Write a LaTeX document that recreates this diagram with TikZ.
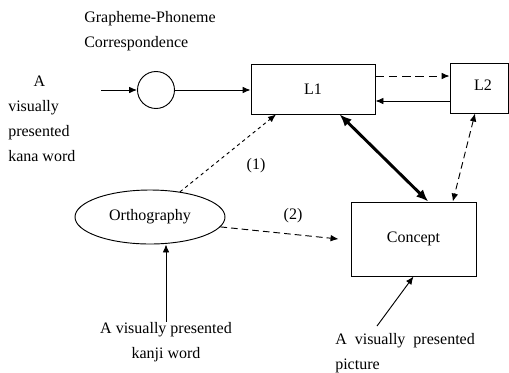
\documentclass[tikz,border=0pt]{standalone}
\usepackage{fontspec}
\setmainfont{Liberation Serif}
\usetikzlibrary{arrows.meta,shapes.geometric,positioning,calc}
\definecolor{ln}{RGB}{0,0,0}
\definecolor{bg}{RGB}{255,255,255}
\tikzset{
  bx/.style={rectangle,draw=ln,line width=0.7pt,minimum width=#1,
    minimum height=37.5pt,inner sep=0pt,font=\fontsize{12}{18.75}\selectfont},
  bx/.default=93pt,
  lbl/.style={inner sep=0pt,font=\fontsize{12}{18.75}\selectfont},
  arr/.style={-{Latex[length=6pt,width=5pt]},line width=0.7pt,color=ln},
  dbl/.style={{Latex[length=6pt,width=5pt]}-{Latex[length=6pt,width=5pt]},line width=0.7pt,color=ln},
  thk/.style={{Latex[length=9pt,width=7.5pt]}-{Latex[length=9pt,width=7.5pt]},line width=2.2pt,color=ln},
  dsh/.style={dash pattern=on 5pt off 3pt},
  lng/.style={dash pattern=on 6.5pt off 3.5pt},
  dot/.style={dash pattern=on 2.5pt off 2.5pt},
}

\begin{document}
\begin{tikzpicture}[x=0.75pt,y=-0.75pt]
    \useasboundingbox[fill=bg] (0,0) rectangle (509,372);

    % Lexicon boxes
    \node[bx] (L1) at (313,89) {L1};
    \node[bx=43.5pt] (L2) at (479,88) {};
    \node[lbl] (L2lbl) at (483,85) {L2};
    \node[bx=93.75pt,minimum height=55.5pt] (con) at (413.5,239) {Concept};

    % GPC route and orthography
    \node[circle,draw=ln,line width=0.7pt,minimum size=27.75pt,inner sep=0pt] (gpc) at (156,90) {};
    \node[ellipse,draw=ln,line width=0.7pt,minimum width=112.5pt,minimum height=40.5pt,
      inner sep=0pt,font=\fontsize{12}{18.75}\selectfont] (orth) at (150,217) {Orthography};

    % Labels
    \node[lbl,align=left,anchor=west] (gpclbl) at (84,31) {Grapheme-Phoneme\\Correspondence};
    \node[lbl,align=left,anchor=west] (kana) at (8,119)
      {\hspace{19pt}A\\visually\\presented\\kana word};
    \node[lbl,align=center] (kanji) at (166,342) {A visually presented\\kanji word};
    \node[lbl,align=left,anchor=west] (pict) at (335,353) {A\ \ visually\ \ presented\\picture};
    \node[lbl] (r1) at (256,166) {(1)};
    \node[lbl] (r2) at (293,216) {(2)};

    \coordinate (kin) at (101,90);
    \coordinate (pin) at (377,326);

    \draw[arr] (kin)--(gpc.west);
    \draw[arr] (gpc.east)--(gpc.east -| L1.west);
    \draw[arr,lng] ([yshift=9.75pt]L1.east)--([yshift=9.75pt]L1.east -| L2.west);
    \draw[arr] ([yshift=-9pt]L1.east -| L2.west)--([yshift=-9pt]L1.east);
    \draw[thk] ([xshift=20pt]L1.south)--([xshift=11pt]con.north);
    \draw[dbl,dsh] ([xshift=-3pt]L2.south)--([xshift=29.5pt]con.north);
    \draw[arr,dot] (orth.40)--([xshift=-27.75pt]L1.south);
    \draw[arr,dsh] (orth.-8)--([xshift=-9pt]con.west);
    \draw[arr] (kanji.north)--(kanji.north |- orth.south);
    \draw[arr] (pin)--(con.south);
  \end{tikzpicture}
\end{document}
